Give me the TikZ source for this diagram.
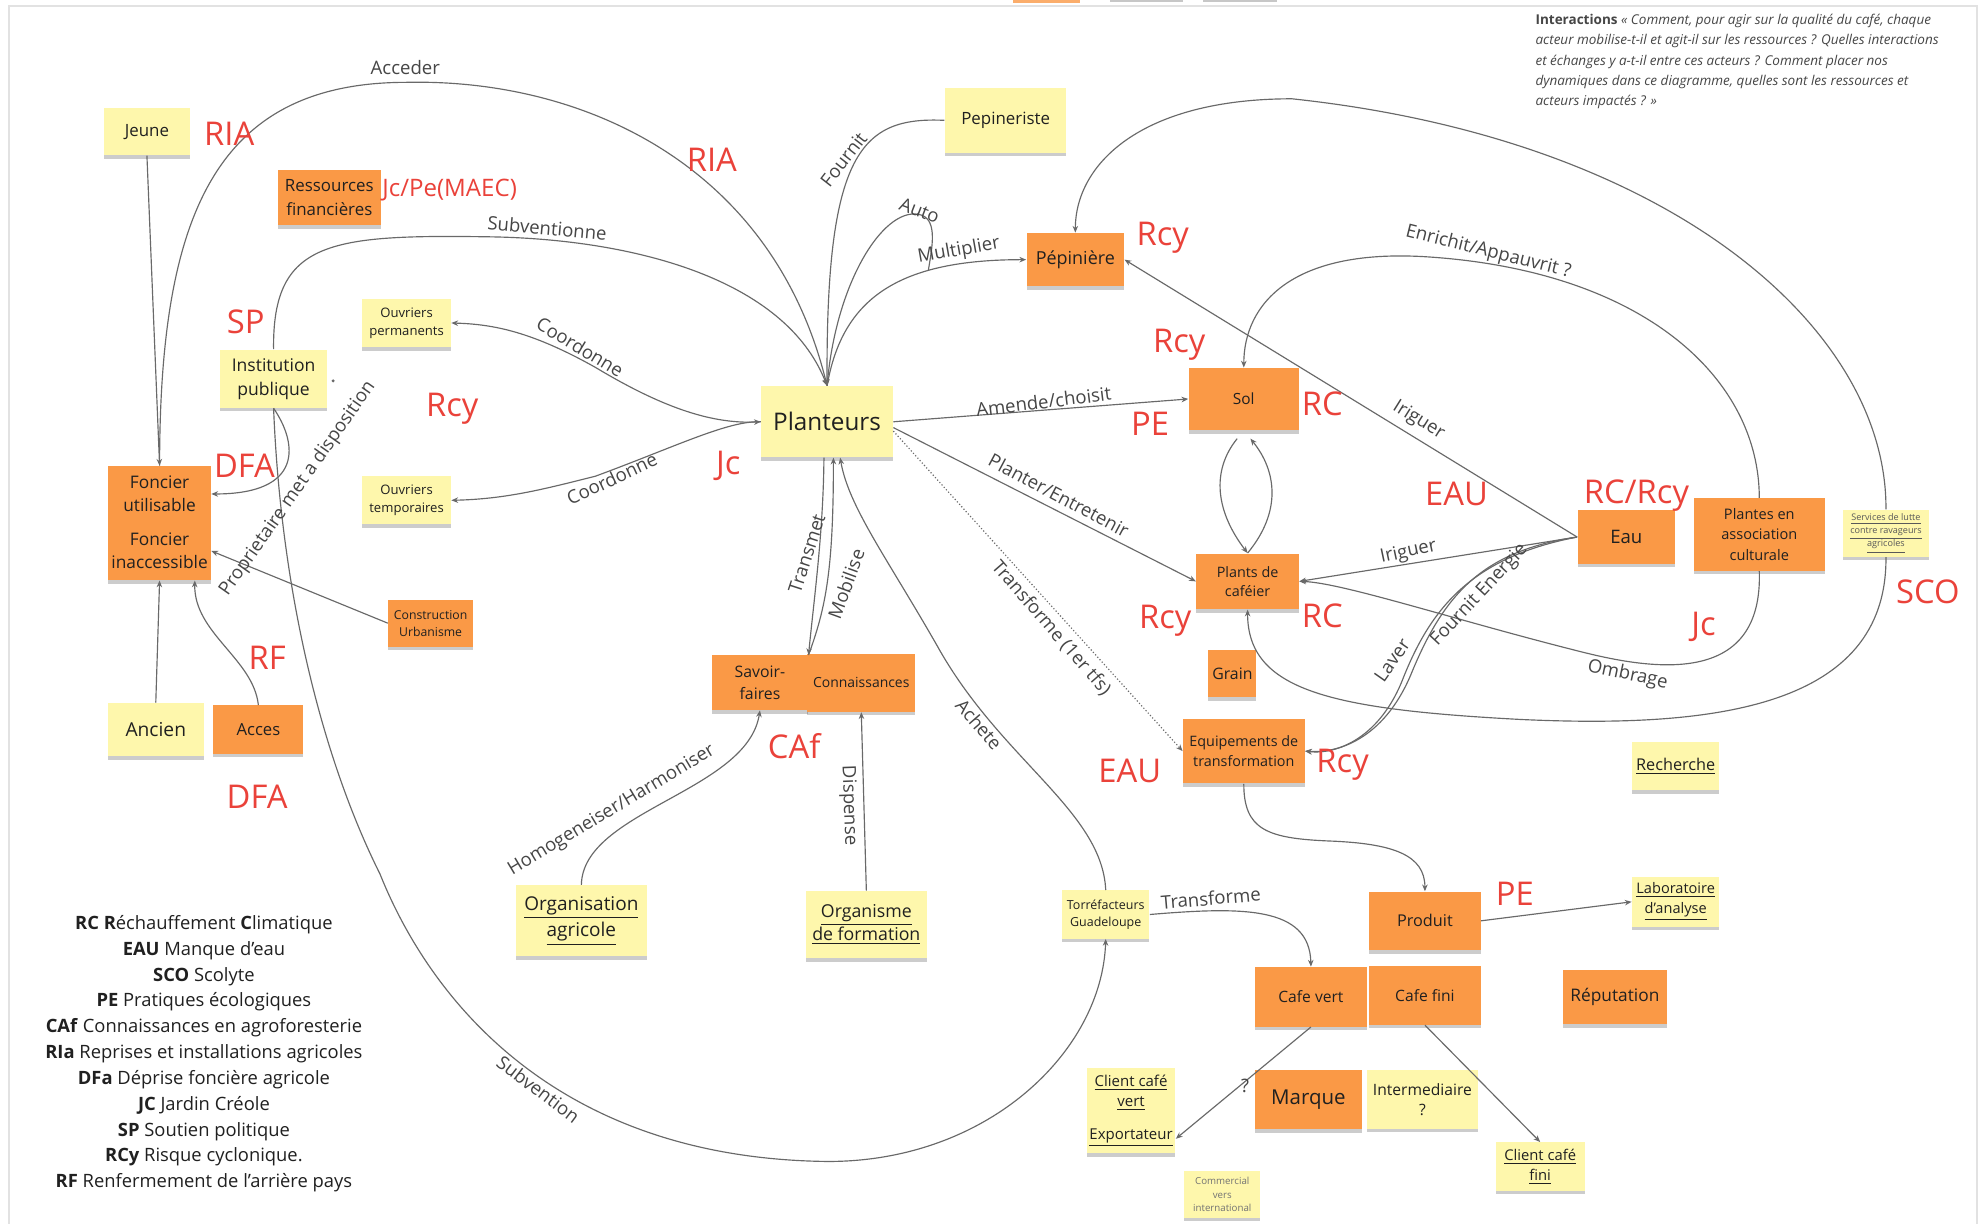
\documentclass[tikz,border=0pt]{standalone}
\usepackage{fontspec}
\setmainfont{Open Sans}
\usetikzlibrary{arrows.meta,shadows}
\definecolor{stY}{RGB}{254,247,172}
\definecolor{stO}{RGB}{250,153,70}
\definecolor{redL}{RGB}{234,66,58}
\definecolor{lineC}{RGB}{105,105,105}
\definecolor{labC}{RGB}{70,70,70}
\definecolor{txtC}{RGB}{32,32,32}
\definecolor{frameC}{RGB}{226,226,226}
\tikzset{
  note/.style={inner sep=1pt, align=center, text=txtC, drop shadow={shadow xshift=0pt, shadow yshift=-1.7pt, opacity=0.2, fill=black}},
  yel/.style={note, fill=stY},
  org/.style={note, fill=stO},
  sz/.style 2 args={minimum width=#1*0.6pt, minimum height=#2*0.6pt},
  fs/.style 2 args={font=\fontsize{#1}{#2}\selectfont},
  risk/.style={text=redL, inner sep=0pt, font=\fontsize{15.5}{16}\selectfont},
  elab/.style={text=labC, inner sep=0.5pt, font=\fontsize{8.8}{9}\selectfont},
  link/.style={draw=lineC, line width=0.55pt, ->},
  bare/.style={draw=lineC, line width=0.55pt},
}
\begin{document}
\begin{tikzpicture}[x=0.6pt, y=-0.6pt, >={Stealth[length=3.2pt,width=2.6pt]}]
\useasboundingbox (0,0) rectangle (1568,966);
\fill[white] (0,0) rectangle (1568,966);
% frame and clipped notes at top
\draw[frameC, line width=0.8pt] (7,975) -- (7,5) -- (1561,5) -- (1561,975);
\fill[stO!80] (800,0) rectangle (853,2);
\fill[black!22] (876,0) rectangle (934,1.5);
\fill[black!22] (950,0) rectangle (1008,1.5);

% ---------- nodes ----------
\node[yel, sz={68}{37}, fs={8}{11}] (jeune) at (116,104) {Jeune};
\node[org, sz={81}{44}, fs={8}{11}] (resf) at (260,156) {Ressources\\financières};
\node[yel, sz={96}{51}, fs={8}{11}] (pepist) at (794,95) {Pepineriste};
\node[org, sz={77}{42}, fs={8.5}{11}] (pepin) at (849,205) {Pépinière};
\node[yel, sz={70}{38}, fs={6.2}{8.4}] (ouvp) at (321,255) {Ouvriers\\permanents};
\node[yel, sz={85}{46}, fs={8.3}{11.4}] (inst) at (216,299) {Institution\\publique};
\node[yel, sz={104}{56}, fs={11.5}{14}] (plant) at (653,333) {Planteurs};
\node[org, sz={87}{49}, fs={7.3}{9}] (sol) at (982,315) {Sol};
\node[org, sz={81}{44}, fs={8.2}{11}] (fonu) at (126,390) {Foncier\\utilisable};
\node[org, sz={81}{46}, fs={8.2}{11}] (foni) at (126,435) {Foncier\\inaccessible};
\node[yel, sz={70}{38}, fs={6.2}{8.4}] (ouvt) at (321,395) {Ouvriers\\temporaires};
\node[org, sz={67}{37}, fs={5.8}{8}] (constr) at (340,492) {Construction\\Urbanisme};
\node[org, sz={81}{44}, fs={6.8}{9.2}] (plants) at (985,459) {Plants de\\caféier};
\node[org, sz={77}{42}, fs={8.8}{11}] (eau) at (1284,424) {Eau};
\node[org, sz={103}{57}, fs={6.9}{9.5}] (plassoc) at (1389,422) {Plantes en\\association\\culturale};
\node[yel, sz={68}{37}, fs={4.3}{6.3}, text=black!65] (serv) at (1489,421) {\underline{Services de lutte}\\\underline{contre ravageurs}\\\underline{agricoles}};
\node[org, sz={38}{37}, fs={7.5}{9}] (grain) at (973,532) {Grain};
\node[org, sz={76}{43}, fs={7.5}{10.2}] (savoir) at (600,539) {Savoir-\\faires};
\node[org, sz={85}{46}, fs={6.6}{8}] (conn) at (680,539) {Connaissances};
\node[yel, sz={76}{42}, fs={9.1}{11}] (ancien) at (123,576) {Ancien};
\node[org, sz={71}{38}, fs={7.9}{10}] (acces) at (204,576) {Acces};
\node[org, sz={96}{51}, fs={6.8}{9.3}] (equip) at (982,593) {Equipements de\\transformation};
\node[yel, sz={69}{38}, fs={7.7}{9}] (rech) at (1323,605) {\underline{Recherche}};
\node[yel, sz={104}{56}, fs={9}{12.6}] (orga) at (459,727) {\underline{Organisation}\\\underline{agricole}};
\node[yel, sz={95}{53}, fs={8.4}{11}] (orgf) at (684,730) {\underline{Organisme}\\\underline{de formation}};
\node[yel, sz={69}{38}, fs={5.9}{8}] (torref) at (873,722) {Torréfacteurs\\Guadeloupe};
\node[org, sz={88}{46}, fs={7.7}{9}] (produit) at (1125,727) {Produit};
\node[yel, sz={69}{39}, fs={6.9}{9.2}] (labo) at (1323,712) {\underline{Laboratoire}\\\underline{d'analyse}};
\node[org, sz={88}{47}, fs={7.4}{9}] (cafev) at (1035,787) {Cafe vert};
\node[org, sz={88}{46}, fs={7.4}{9}] (cafef) at (1125,786) {Cafe fini};
\node[org, sz={82}{43}, fs={8.2}{10}] (reput) at (1275,787) {Réputation};
\node[yel, sz={70}{67}, fs={7.1}{9.6}] (client) at (893,877) {\underline{Client café}\\\underline{vert}\\[6pt]\underline{Exportateur}};
\node[org, sz={84}{47}, fs={9.7}{11}] (marque) at (1033,868) {Marque};
\node[yel, sz={88}{46}, fs={7.4}{9.5}] (interm) at (1123,868) {Intermediaire\\?};
\node[yel, sz={70}{38}, fs={7}{9.5}] (clientf) at (1216,921) {\underline{Client café}\\\underline{fini}};
\node[yel, sz={60}{37}, fs={4.6}{6.3}, text=black!55] (comm) at (965,943) {Commercial\\vers\\international};

% interactions text
\node[anchor=north west, inner sep=0pt, align=left, text=labC, font=\fontsize{6.4}{9.6}\selectfont\itshape] (inter) at (1212,11)
 {\textup{\textbf{Interactions}} « Comment, pour agir sur la qualité du café, chaque\\
  acteur mobilise-t-il et agit-il sur les ressources ? Quelles interactions\\
  et échanges y a-t-il entre ces acteurs ? Comment placer nos\\
  dynamiques dans ce diagramme, quelles sont les ressources et\\
  acteurs impactés ? »};

% legend
\node[align=center, text=txtC, font=\fontsize{8.7}{12.24}\selectfont] (legend) at (161,832)
 {\textbf{RC} \textbf{R}échauffement \textbf{C}limatique\\
  \textbf{EAU} Manque d'eau\\
  \textbf{SCO} Scolyte\\
  \textbf{PE} Pratiques écologiques\\
  \textbf{CAf} Connaissances en agroforesterie\\
  \textbf{RIa} Reprises et installations agricoles\\
  \textbf{DFa} Déprise foncière agricole\\
  \textbf{JC} Jardin Créole\\
  \textbf{SP} Soutien politique\\
  \textbf{RCy} Risque cyclonique.\\
  \textbf{RF} Renfermement de l'arrière pays};

% ---------- connectors ----------
\coordinate (autoend) at (733,213);
\draw[link] (jeune.south) -- (fonu.north);
\draw[link] (fonu.north) .. controls (126,170) and (170,65) .. (321,65) .. controls (460,62) and (610,130) .. (plant.north);
\draw[link] (inst.north) .. controls (215,190) and (260,185) .. (388,187) .. controls (500,189) and (620,220) .. (plant.north);
\draw[link] (pepist.west) .. controls (680,92) and (652,120) .. (plant.north);
\draw[bare] (plant.north) .. controls (660,220) and (700,160) .. (728,170) .. controls (740,175) and (736,195) .. (autoend);
\draw[link] (plant.north) .. controls (665,235) and (710,205) .. (pepin.west);
\draw[link] (serv.north) .. controls (1490,260) and (1320,110) .. (1020,78) .. controls (900,78) and (849,130) .. (pepin.north);
\draw[link] (serv.south) .. controls (1490,560) and (1350,575) .. (1200,568) .. controls (1050,560) and (985,545) .. (plants.south);
\draw[link] (plassoc.north) .. controls (1389,300) and (1300,215) .. (1130,203) .. controls (1020,195) and (982,240) .. (sol.north);
\draw[link] (plassoc.south) .. controls (1392,540) and (1310,530) .. (1250,515) .. controls (1150,490) and (1060,460) .. (plants.east);
\draw[link] (eau.west) -- (pepin.east);
\draw[link] (eau.west) -- (plants.east);
\draw[link] (eau.west) .. controls (1170,435) and (1140,470) .. (1115,530) .. controls (1095,580) and (1060,595) .. (equip.east);
\draw[link] (eau.west) .. controls (1162,440) and (1130,480) .. (1108,535) .. controls (1090,582) and (1056,596) .. (equip.east);
\draw[link, shorten <=5pt] (sol.south) .. controls (956,372) and (960,404) .. (plants.north);
\draw[link, shorten >=5pt] (plants.north) .. controls (1012,404) and (1008,372) .. (sol.south);
\draw[link] (plant.east) -- (sol.west);
\draw[link] (plant.-5) -- (plants.west);
\draw[link, densely dotted] (plant.-8) -- (equip.west);
\draw[link] (plant.-95) .. controls (650,420) and (643,470) .. (savoir.north east);
\draw[link] (savoir.north east) .. controls (652,480) and (658,450) .. (plant.-80);
\draw[link] (torref.north) .. controls (870,640) and (790,600) .. (740,510) .. controls (700,440) and (670,400) .. (plant.-70);
\draw[link] (inst.south) .. controls (222,470) and (255,600) .. (300,690) .. controls (340,790) and (440,915) .. (654,917) .. controls (780,917) and (870,830) .. (torref.south);
\draw[link] (inst.south) .. controls (235,350) and (240,390) .. (fonu.east);
\fill[lineC] ([xshift=2.5pt,yshift=-1pt]inst.east) circle[radius=0.8pt];
\draw[link] (constr.west) -- (foni.east);
\draw[link] (ancien.north) -- (foni.south);
\draw[link] (acces.north) .. controls (200,520) and (153,500) .. (foni.-40);
\draw[link, <->] (plant.west) .. controls (560,335) and (520,320) .. (470,290) .. controls (420,262) and (390,256) .. (ouvp.east);
\draw[link] (plant.west) .. controls (575,332) and (535,352) .. (470,376) .. controls (430,386) and (400,394) .. (ouvt.east);
\draw[link] (orga.north) .. controls (460,640) and (590,625) .. (savoir.south);
\draw[link] (orgf.north) -- (conn.south);
\draw[link] (torref.east) .. controls (980,716) and (1034,715) .. (cafev.north);
\draw[link] (equip.south) .. controls (982,655) and (1000,662) .. (1050,664) .. controls (1100,666) and (1125,675) .. (produit.north);
\draw[link] (produit.east) -- (labo.west);
\draw[link] (cafev.south) -- (client.-32);
\draw[link] (cafef.south) -- (clientf.north);

% ---------- connector labels ----------
\node[elab] (l1) at (320,53) {Acceder};
\node[elab, rotate=-5] (l2) at (432,180) {Subventionne};
\node[elab, rotate=52] (l3) at (666,126) {Fournit};
\node[elab, rotate=-21] (l4) at (726,166) {Auto};
\node[elab, rotate=10] (l5) at (757,198) {Multiplier};
\node[elab, rotate=-14] (l6) at (1175,199) {Enrichit/Appauvrit ?};
\node[elab, rotate=-31] (l7) at (458,274) {Coordonne};
\node[elab, rotate=25] (l8) at (483,378) {Coordonne};
\node[elab, rotate=7] (l9) at (824,317) {Amende/choisit};
\node[elab, rotate=-28] (l10) at (836,391) {Planter/Entretenir};
\node[elab, rotate=-49] (l11) at (830,496) {Transforme (1er tfs)};
\node[elab, rotate=-32] (l12) at (1120,332) {Iriguer};
\node[elab, rotate=12] (l13) at (1112,436) {Iriguer};
\node[elab, rotate=47] (l14) at (1168,470) {Fournit Energie};
\node[elab, rotate=55] (l15) at (1099,521) {Laver};
\node[elab, rotate=-12] (l16) at (1285,533) {Ombrage};
\node[elab, rotate=72] (l17) at (637,437) {Transmet};
\node[elab, rotate=70] (l18) at (668,461) {Mobilise};
\node[elab, rotate=-49] (l19) at (773,572) {Achete};
\node[elab, rotate=55] (l20) at (235,386) {Proprietaire met a disposition};
\node[elab, rotate=31] (l21) at (483,640) {Homogeneiser/Harmoniser};
\node[elab, rotate=-88] (l22) at (670,636) {Dispense};
\node[elab, rotate=-37] (l23) at (425,860) {Subvention};
\node[elab, rotate=5] (l24) at (956,709) {Transforme};
\node[elab] (l25) at (983,857) {?};

% ---------- red risk labels ----------
\node[risk] (r1) at (181,106) {RIA};
\node[risk] (r2) at (562,126) {RIA};
\node[risk, font=\fontsize{11.4}{12}\selectfont] (r3) at (355,150) {Jc/Pe(MAEC)};
\node[risk] (r4) at (194,254) {SP};
\node[risk] (r5) at (357,323) {Rcy};
\node[risk] (r6) at (193,368) {DFA};
\node[risk] (r7) at (575,368) {Jc};
\node[risk] (r8) at (211,519) {RF};
\node[risk] (r9) at (203,629) {DFA};
\node[risk] (r10) at (918,188) {Rcy};
\node[risk] (r11) at (931,272) {Rcy};
\node[risk] (r12) at (908,335) {PE};
\node[risk] (r13) at (1044,319) {RC};
\node[risk] (r14) at (1150,390) {EAU};
\node[risk] (r15) at (1292,391) {RC/Rcy};
\node[risk] (r16) at (920,490) {Rcy};
\node[risk] (r17) at (1044,486) {RC};
\node[risk] (r18) at (1345,495) {Jc};
\node[risk] (r19) at (1522,467) {SCO};
\node[risk] (r20) at (627,589) {CAf};
\node[risk] (r21) at (892,609) {EAU};
\node[risk] (r22) at (1060,604) {Rcy};
\node[risk] (r23) at (1196,706) {PE};
\end{tikzpicture}
\end{document}
